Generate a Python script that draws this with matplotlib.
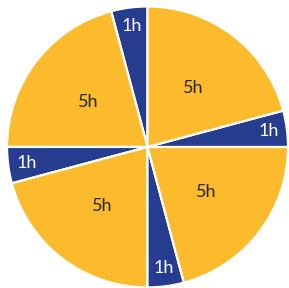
import numpy as np
import matplotlib.pyplot as plt

# Data (counterclockwise from the top)
labels = ["1h", "5h", "1h", "5h", "1h", "5h", "1h", "5h"]
hours = [1, 5, 1, 5, 1, 5, 1, 5]
colors = ["#263D8F" if h == 1 else "#FBBB2D" for h in hours]

fig = plt.figure(figsize=(2.89, 2.88), dpi=100)
ax = fig.add_axes([0.0, 0.0, 1.0, 1.0])

wedges, _ = ax.pie(hours, colors=colors, startangle=90, counterclock=True,
                   wedgeprops=dict(edgecolor="white", linewidth=1.6),
                   center=(0, 0), radius=1.0)

# labels: short slices near the rim, long ones closer to the center
for w, lab, h in zip(wedges, labels, hours):
    ang = np.deg2rad((w.theta1 + w.theta2) / 2)
    r = 0.87 if h == 1 else 0.53
    ax.text(r * np.cos(ang), r * np.sin(ang), lab, ha="center", va="center",
            fontsize=13, family="Lato",
            color="white" if h == 1 else "#262626")

ax.set_xlim(-1.05, 1.007)
ax.set_ylim(-1.004, 1.046)
ax.set_aspect("equal")
ax.axis("off")

plt.savefig("out.png", dpi=100)
